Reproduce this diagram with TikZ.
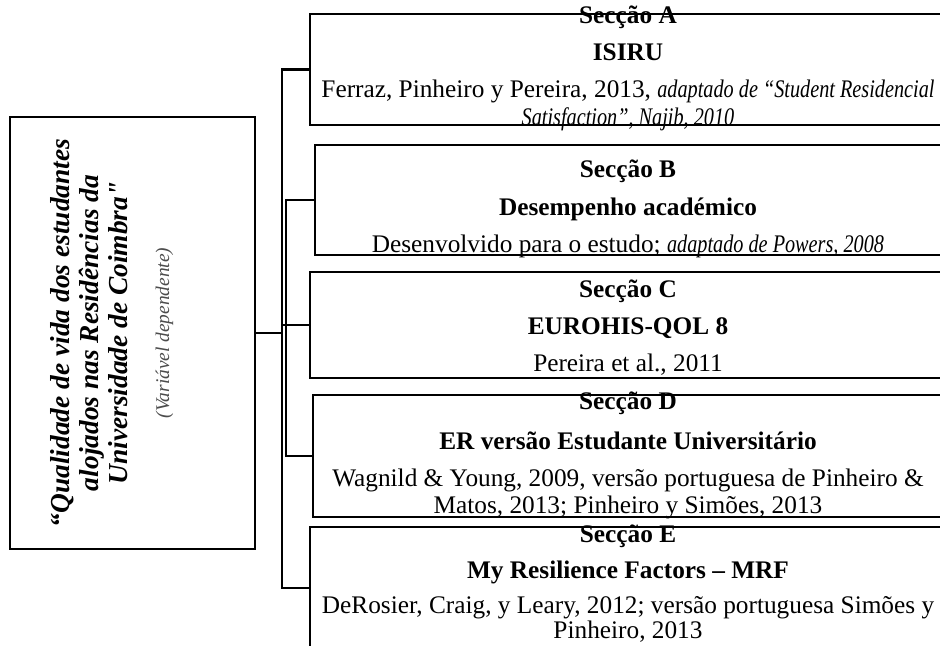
\documentclass[tikz,border=0pt]{standalone}
\usepackage{fontspec}
\setmainfont{Liberation Serif}
\newfontfamily\narrowfam[FakeStretch=0.8]{Liberation Serif}
\usepackage{tikz}
\usetikzlibrary{positioning}

\newcommand{\narrowit}[1]{{\narrowfam\itshape #1}}

\tikzset{
  secbox/.style={draw,ultra thick,minimum width=16cm,inner sep=0pt,anchor=west},
  sectxt/.style={align=center,inner sep=0pt,font=\fontsize{18}{19.5}\selectfont},
  conn/.style={ultra thick},
}

\begin{document}
\begin{tikzpicture}
  %\draw[step=1cm,gray,very thin] (0,0) grid (23.5,16.125);
  \useasboundingbox (0,0) rectangle (23.5,16.125);
  \clip (0,0) rectangle (23.5,16.125);

  % dependent variable
  \node[draw,ultra thick,minimum width=6.125cm,minimum height=10.8cm] (qual) at (3.3125,7.8) {};
  \node[rotate=90,align=center,inner sep=0pt,font=\fontsize{19.5}{20.5}\selectfont\bfseries\itshape] (qualtxt) at (2.8,7.8)
    {“Qualidade de vida dos estudantes\\ alojados nas Residências da\\ Universidade de Coimbra\textquotedbl\\[9pt]
     {\fontsize{13.8}{15}\selectfont\mdseries\color{black!70}(Variável dependente)}};

  % sections
  \node[secbox,minimum height=2.775cm] (secA) at (7.725,14.39) {};
  \node[secbox,minimum height=2.75cm] (secB) at (7.85,11.125) {};
  \node[secbox,minimum height=2.65cm] (secC) at (7.725,8.0) {};
  \node[secbox,minimum height=3.05cm] (secD) at (7.8,4.725) {};
  \node[secbox,minimum height=3.05cm] (secE) at (7.725,1.425) {};

  \node[sectxt] (txtA) at (15.7,14.42)
    {\textbf{Secção A}\\[7pt] \textbf{ISIRU}\\[7pt]
     Ferraz, Pinheiro y Pereira, 2013, \narrowit{adaptado de “Student Residencial}\\
     \narrowit{Satisfaction”, Najib, 2010}};
  \node[sectxt] (txtB) at (15.7,10.9)
    {\textbf{Secção B}\\[7pt] \textbf{Desempenho académico}\\[7pt]
     Desenvolvido para o estudo; \narrowit{adaptado de Powers, 2008}};
  \node[sectxt] (txtC) at (15.7,7.94)
    {\textbf{Secção C}\\[7pt] \textbf{EUROHIS-QOL 8}\\[7pt]
     Pereira et al., 2011};
  \node[sectxt] (txtD) at (15.7,4.74)
    {\textbf{Secção D}\\[9pt] \textbf{ER versão Estudante Universitário}\\[7pt]
     Wagnild \& Young, 2009, versão portuguesa de Pinheiro \&\\
     Matos, 2013; Pinheiro y Simões, 2013};
  \node[sectxt] (txtE) at (15.7,1.53)
    {\textbf{Secção E}\\[6pt] \textbf{My Resilience Factors – MRF}\\[5pt]
     DeRosier, Craig, y Leary, 2012; versão portuguesa Simões y\\[-1.5pt]
     Pinheiro, 2013};

  % connectors
  \coordinate (hub) at (7.05,7.8);
  \draw[conn] (qual.east) -- (hub);
  \draw[conn] (secA.west) -| (hub) |- (secE.west);
  \draw[conn] (secB.west) -| ([xshift=1mm]hub) |- (secD.west);
  \draw[conn] (secC.west) -- (secC.west -| hub);

\end{tikzpicture}
\end{document}
